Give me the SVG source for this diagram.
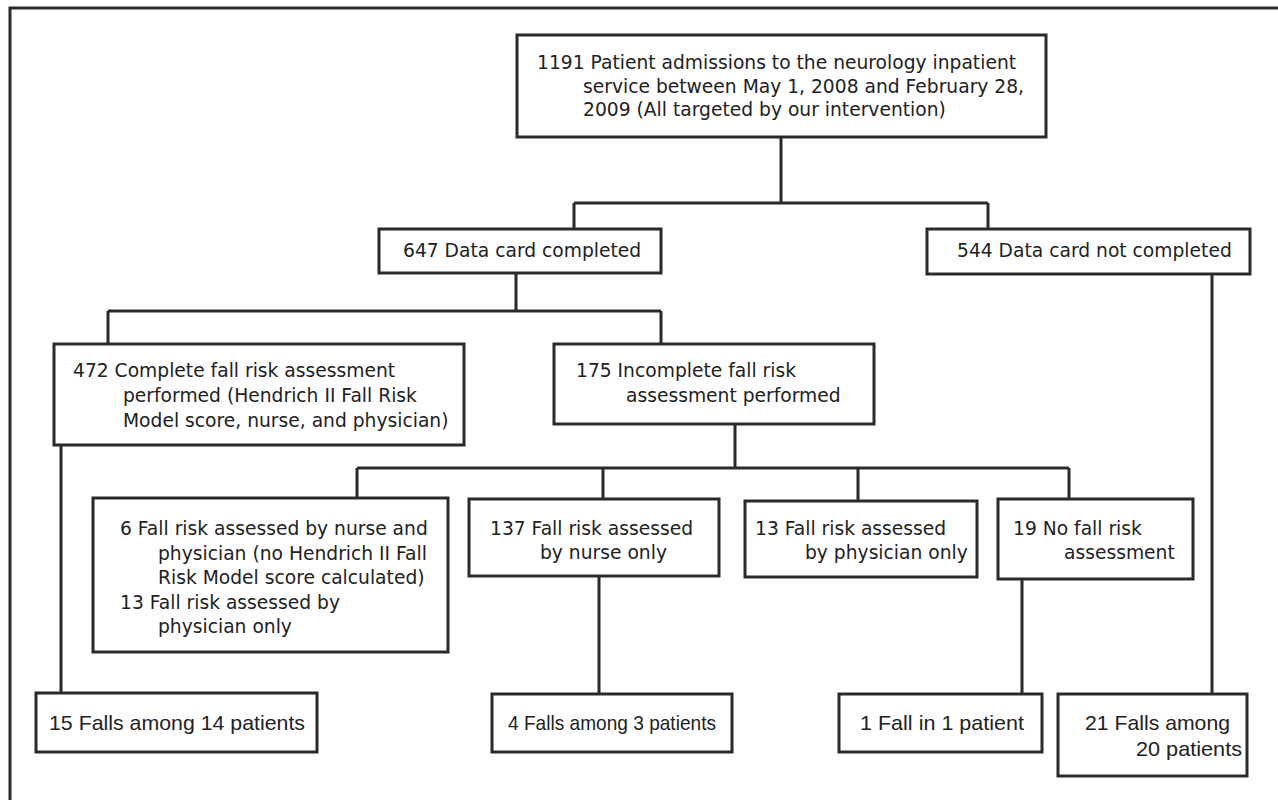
<svg xmlns="http://www.w3.org/2000/svg" width="1278" height="800" viewBox="0 0 1278 800">
<style>
.b{fill:#fff;stroke:#2a2a2a;stroke-width:3}
.c{fill:none;stroke:#2a2a2a;stroke-width:3}
text{font-family:"DejaVu Sans","Liberation Sans",sans-serif;font-size:18.7px;fill:#222}
.n{font-family:"Liberation Sans Narrow","Liberation Sans",sans-serif;font-size:21px}
</style>
<rect width="1278" height="800" fill="#fff"/>
<path class="c" d="M10,800 V8 H1278"/>
<g id="connectors">
<path class="c" d="M781,137 V203 M574,203 H988 M574,203 V229 M988,203 V229"/>
<path class="c" d="M516,273 V311 M108,311 H661 M108,311 V344 M661,311 V344"/>
<path class="c" d="M735,424 V468 M357,468 H1069 M357,468 V498 M603,468 V499 M858,468 V501 M1069,468 V499"/>
<path class="c" d="M61,445 V693 M599,576 V694 M1022,579 V694 M1212,274 V694"/>
</g>
<g id="n1191"><rect class="b" x="517" y="35" width="529" height="102"/>
<text x="537" y="69">1191 Patient admissions to the neurology inpatient</text>
<text x="583" y="93">service between May 1, 2008 and February 28,</text>
<text x="583" y="116">2009 (All targeted by our intervention)</text></g>
<g id="n647"><rect class="b" x="379" y="229" width="282" height="44"/>
<text x="403" y="257">647 Data card completed</text></g>
<g id="n544"><rect class="b" x="927" y="229" width="323" height="45"/>
<text x="957" y="257">544 Data card not completed</text></g>
<g id="n472"><rect class="b" x="54" y="344" width="410" height="101"/>
<text x="73" y="377">472 Complete fall risk assessment</text>
<text x="123" y="402">performed (Hendrich II Fall Risk</text>
<text x="123" y="427">Model score, nurse, and physician)</text></g>
<g id="n175"><rect class="b" x="554" y="344" width="320" height="80"/>
<text x="576" y="377">175 Incomplete fall risk</text>
<text x="626" y="402">assessment performed</text></g>
<g id="n6"><rect class="b" x="93" y="498" width="355" height="154"/>
<text x="120" y="535">6 Fall risk assessed by nurse and</text>
<text x="158" y="560">physician (no Hendrich II Fall</text>
<text x="158" y="584">Risk Model score calculated)</text>
<text x="120" y="609">13 Fall risk assessed by</text>
<text x="158" y="633">physician only</text></g>
<g id="n137"><rect class="b" x="469" y="499" width="250" height="77"/>
<text x="490" y="535">137 Fall risk assessed</text>
<text x="540" y="559">by nurse only</text></g>
<g id="n13"><rect class="b" x="745" y="501" width="232" height="76"/>
<text x="755" y="535">13 Fall risk assessed</text>
<text x="805" y="559">by physician only</text></g>
<g id="n19"><rect class="b" x="998" y="499" width="195" height="80"/>
<text x="1013" y="535">19 No fall risk</text>
<text x="1064" y="559">assessment</text></g>
<g id="f15"><rect class="b" x="36" y="693" width="281" height="59"/>
<text class="n" x="49" y="730" textLength="256" lengthAdjust="spacingAndGlyphs">15 Falls among 14 patients</text></g>
<g id="f4"><rect class="b" x="492" y="694" width="240" height="58"/>
<text class="n" x="508" y="730" textLength="208" lengthAdjust="spacingAndGlyphs">4 Falls among 3 patients</text></g>
<g id="f1"><rect class="b" x="839" y="694" width="203" height="58"/>
<text class="n" x="860" y="730" textLength="164" lengthAdjust="spacingAndGlyphs">1 Fall in 1 patient</text></g>
<g id="f21"><rect class="b" x="1058" y="694" width="189" height="82"/>
<text class="n" x="1085" y="730" textLength="145" lengthAdjust="spacingAndGlyphs">21 Falls among</text>
<text class="n" x="1136" y="756" textLength="106" lengthAdjust="spacingAndGlyphs">20 patients</text></g>
</svg>
